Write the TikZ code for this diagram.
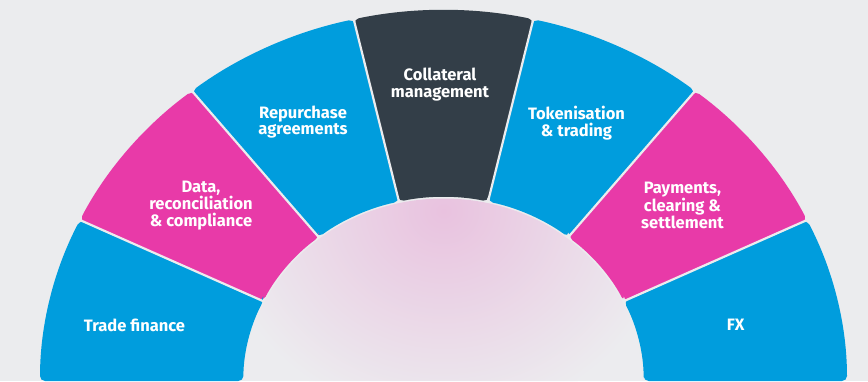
\documentclass[tikz,border=0pt]{standalone}
\usepackage{fontspec}
\setmainfont{Fira Sans}
\definecolor{bgc}{RGB}{235,236,238}
\definecolor{segblue}{RGB}{0,157,221}
\definecolor{segpink}{RGB}{232,58,168}
\definecolor{segdark}{RGB}{51,62,72}
\definecolor{diskpink}{RGB}{233,194,223}
\definecolor{diskgray}{RGB}{236,236,239}
\tikzset{
  seglabel/.style={text=white, align=center, font=\fontsize{16.5}{16.8}\selectfont\bfseries, inner sep=0pt},
  gapline/.style={draw=bgc, line width=2.2pt},
}
\newcommand{\segment}[3]{%
  \fill[#3, rounded corners=5pt] (#1:184) -- (#1:371) arc[start angle=#1, end angle=#2, radius=371] -- (#2:184) arc[start angle=#2, end angle=#1, radius=184] -- cycle;%
}
\begin{document}
\begin{tikzpicture}[x=1pt,y=1pt]
\fill[bgc] (0,0) rectangle (868,381);
\useasboundingbox (0,0) rectangle (868,381);
\begin{scope}[shift={(443.5,0)}, xscale=1.0876]
  \segment{0}{25.7143}{segblue}
  \segment{25.7143}{51.4286}{segpink}
  \segment{51.4286}{77.1429}{segblue}
  \segment{77.1429}{102.8571}{segdark}
  \segment{102.8571}{128.5714}{segblue}
  \segment{128.5714}{154.2857}{segpink}
  \segment{154.2857}{180}{segblue}
  \foreach \a in {25.7143,51.4286,77.1429,102.8571,128.5714,154.2857}
    \draw[gapline] (\a:176) -- (\a:380);
  \begin{scope}
    \clip (-182.5,0) arc[start angle=180, end angle=0, radius=182.5] -- cycle;
    \fill[diskgray] (-190,0) rectangle (190,190);
    \shade[inner color=diskpink, outer color=diskgray] (0,170) circle (210);
  \end{scope}
\end{scope}
\node[seglabel] (fx) at (735.7,56.5) {FX};
\node[seglabel] (pay) at (682.5,176) {Payments,\\clearing \&\\settlement};
\node[seglabel] (tok) at (576.5,258) {Tokenisation\\\& trading};
\node[seglabel] (col) at (440,296.5) {Collateral\\management};
\node[seglabel] (rep) at (303,259) {Repurchase\\agreements};
\node[seglabel] (dat) at (201,175.5) {Data,\\reconciliation\\\& compliance};
\node[seglabel] (trd) at (134.5,56) {Trade finance};
\end{tikzpicture}
\end{document}
